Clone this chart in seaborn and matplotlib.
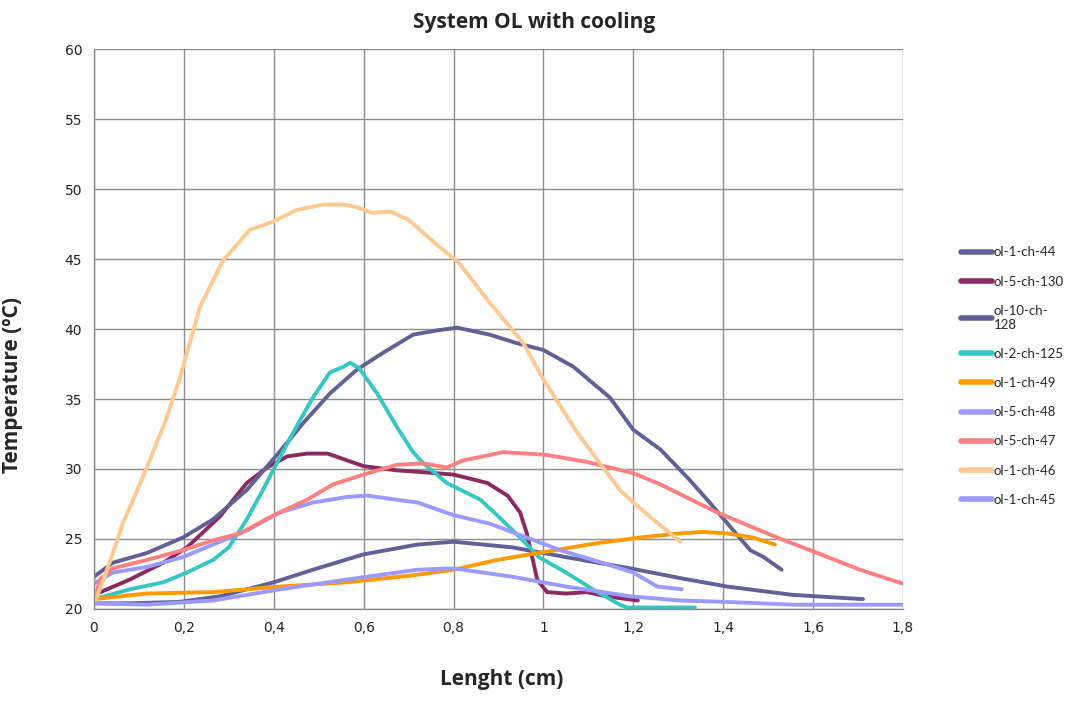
import numpy as np
import pandas as pd
import matplotlib
matplotlib.use("Agg")
import matplotlib.pyplot as plt
import seaborn as sns
from matplotlib.ticker import MultipleLocator, FuncFormatter

# series (length cm, temperature ºC)
x_44 = [0, 0.08, 0.19, 0.28, 0.40, 0.487, 0.60, 0.72, 0.80, 0.93, 1.05, 1.193, 1.304, 1.408, 1.555, 1.711]
y_44 = [20.4, 20.4, 20.5, 20.9, 21.9, 22.8, 23.9, 24.6, 24.8, 24.4, 23.7, 22.9, 22.2, 21.6, 21.0, 20.7]

x_130 = [0, 0.08, 0.154, 0.207, 0.28, 0.34, 0.385, 0.43, 0.474, 0.52, 0.60, 0.674, 0.72, 0.80, 0.875,
         0.92, 0.948, 0.963, 0.975, 0.986, 1.008, 1.05, 1.097, 1.14, 1.21]
y_130 = [21.0, 22.1, 23.3, 24.4, 26.6, 29.0, 30.1, 30.9, 31.1, 31.1, 30.2, 29.9, 29.8, 29.6, 29.0,
         28.1, 26.9, 25.4, 23.7, 22.1, 21.2, 21.1, 21.2, 20.9, 20.6]

x_128 = [0, 0.042, 0.118, 0.198, 0.265, 0.34, 0.407, 0.466, 0.525, 0.585, 0.643, 0.71, 0.763, 0.808,
         0.88, 0.94, 1.0, 1.067, 1.148, 1.2, 1.26, 1.32, 1.37, 1.415, 1.46, 1.49, 1.53]
y_128 = [22.3, 23.3, 24.0, 25.1, 26.4, 28.5, 31.0, 33.3, 35.4, 37.1, 38.3, 39.6, 39.9, 40.1,
         39.6, 39.0, 38.5, 37.3, 35.1, 32.8, 31.4, 29.4, 27.6, 25.9, 24.2, 23.7, 22.8]

x_125 = [0, 0.08, 0.154, 0.207, 0.265, 0.30, 0.34, 0.376, 0.40, 0.45, 0.487, 0.525, 0.555, 0.57, 0.59,
         0.63, 0.674, 0.71, 0.733, 0.785, 0.86, 0.90, 0.948, 0.99, 1.05, 1.11, 1.17, 1.186, 1.337]
y_125 = [20.7, 21.4, 21.9, 22.6, 23.5, 24.4, 26.4, 28.5, 30.0, 33.0, 35.1, 36.9, 37.3, 37.6, 37.2,
         35.4, 33.0, 31.2, 30.4, 29.0, 27.8, 26.6, 25.1, 23.7, 22.6, 21.4, 20.3, 20.1, 20.1]

x_49 = [0, 0.118, 0.265, 0.414, 0.563, 0.71, 0.80, 0.897, 1.008, 1.12, 1.215, 1.304, 1.355, 1.408, 1.466, 1.515]
y_49 = [20.7, 21.1, 21.2, 21.6, 21.9, 22.4, 22.8, 23.5, 24.1, 24.7, 25.1, 25.4, 25.5, 25.4, 25.1, 24.6]

x_48 = [0, 0.042, 0.118, 0.198, 0.265, 0.34, 0.414, 0.487, 0.563, 0.607, 0.674, 0.72, 0.80, 0.88,
        0.963, 1.037, 1.12, 1.2, 1.253, 1.308]
y_48 = [21.8, 22.6, 23.0, 23.7, 24.6, 25.6, 26.9, 27.6, 28.0, 28.1, 27.8, 27.6, 26.7, 26.1,
        25.1, 24.2, 23.4, 22.6, 21.6, 21.4]

x_47 = [0, 0.013, 0.042, 0.118, 0.198, 0.265, 0.325, 0.40, 0.474, 0.532, 0.60, 0.674, 0.733, 0.785,
        0.82, 0.91, 0.963, 1.008, 1.097, 1.2, 1.26, 1.386, 1.52, 1.593, 1.704, 1.8]
y_47 = [20.3, 22.1, 22.9, 23.5, 24.2, 24.9, 25.4, 26.7, 27.8, 28.9, 29.6, 30.3, 30.4, 30.1,
        30.6, 31.2, 31.1, 31.0, 30.5, 29.7, 28.9, 26.9, 25.1, 24.2, 22.8, 21.8]

x_46 = [0, 0.02, 0.04, 0.065, 0.09, 0.12, 0.16, 0.19, 0.236, 0.287, 0.347, 0.40, 0.45, 0.51, 0.555,
        0.585, 0.62, 0.66, 0.70, 0.76, 0.81, 0.88, 0.955, 1.0, 1.075, 1.126, 1.17, 1.2, 1.244, 1.305]
y_46 = [20.3, 22.0, 23.8, 26.2, 28.0, 30.3, 33.5, 36.4, 41.6, 44.9, 47.1, 47.7, 48.5, 48.9, 48.9,
        48.7, 48.3, 48.4, 47.8, 46.1, 44.8, 41.9, 39.0, 36.4, 32.6, 30.4, 28.5, 27.6, 26.4, 24.8]

x_45 = [0, 0.118, 0.265, 0.414, 0.563, 0.72, 0.80, 0.93, 1.05, 1.193, 1.304, 1.408, 1.555, 1.8]
y_45 = [20.4, 20.3, 20.6, 21.4, 22.1, 22.8, 22.9, 22.3, 21.6, 20.9, 20.6, 20.5, 20.3, 20.3]

names = ["ol-1-ch-44", "ol-5-ch-130", "ol-10-ch-\n128", "ol-2-ch-125", "ol-1-ch-49",
         "ol-5-ch-48", "ol-5-ch-47", "ol-1-ch-46", "ol-1-ch-45"]
xs = [x_44, x_130, x_128, x_125, x_49, x_48, x_47, x_46, x_45]
ys = [y_44, y_130, y_128, y_125, y_49, y_48, y_47, y_46, y_45]
colors = ["#616196", "#8a2a5e", "#616196", "#36c6c4", "#ff9a05",
          "#9a9aff", "#ff8080", "#ffc994", "#9a9aff"]

frames = []
for n, x, y in zip(names, xs, ys):
    frames.append(pd.DataFrame({"Lenght": x, "Temp": y, "series": n}))
df = pd.concat(frames, ignore_index=True)

sns.set_style("white")
plt.rcParams['font.family'] = ['Liberation Sans Narrow', 'DejaVu Sans']

fig = plt.figure(figsize=(10.68, 7.13), dpi=100)
ax = fig.add_axes([0.088, 0.146, 0.7575, 0.785])

sns.lineplot(data=df, x="Lenght", y="Temp", hue="series", hue_order=names,
             palette=dict(zip(names, colors)), estimator=None, sort=False,
             linewidth=2.8, ax=ax, legend=False)

ax.set_xlim(0, 1.8)
ax.set_ylim(20, 60)
ax.xaxis.set_major_locator(MultipleLocator(0.2))
ax.xaxis.set_minor_locator(MultipleLocator(0.04))
ax.yaxis.set_major_locator(MultipleLocator(5))
ax.xaxis.set_major_formatter(FuncFormatter(lambda v, p: ("%g" % round(v, 1)).replace(".", ",")))
ax.grid(True, which="major", color="#8c8c8c", linewidth=1.0)
ax.set_axisbelow(True)
for s in ["top", "right"]:
    ax.spines[s].set_visible(False)
for s in ["left", "bottom"]:
    ax.spines[s].set_color("#8c8c8c")
    ax.spines[s].set_linewidth(1.0)
ax.tick_params(axis="both", which="major", direction="out", length=5, color="#8c8c8c",
               labelsize=10, labelcolor="#222222")
ax.tick_params(axis="x", which="minor", direction="in", length=3, color="#8c8c8c")
ax.tick_params(axis="y", which="minor", left=False)
ax.set_xlabel("")
ax.set_ylabel("")

fig.text(0.5, 0.968, "System OL with cooling", ha="center", va="center", fontsize=15,
         fontweight="bold", family=["Open Sans", "DejaVu Sans"])
fig.text(0.47, 0.047, "Lenght (cm)", ha="center", va="center", fontsize=15,
         fontweight="bold", family=["Open Sans", "DejaVu Sans"])
fig.text(0.012, 0.46, "Temperature (ºC)", ha="center", va="center", fontsize=15,
         fontweight="bold", rotation=90, family=["Open Sans", "DejaVu Sans"])

handles = [plt.Line2D([], [], color=c, linewidth=4) for c in colors]
leg = fig.legend(handles, names, loc="upper left", bbox_to_anchor=(0.889, 0.671),
                 frameon=False, handlelength=2.3, handletextpad=0.15,
                 labelspacing=1.3, prop={"family": ["Lato", "DejaVu Sans"], "size": 9.5})

fig.savefig("out.png", dpi=100)
